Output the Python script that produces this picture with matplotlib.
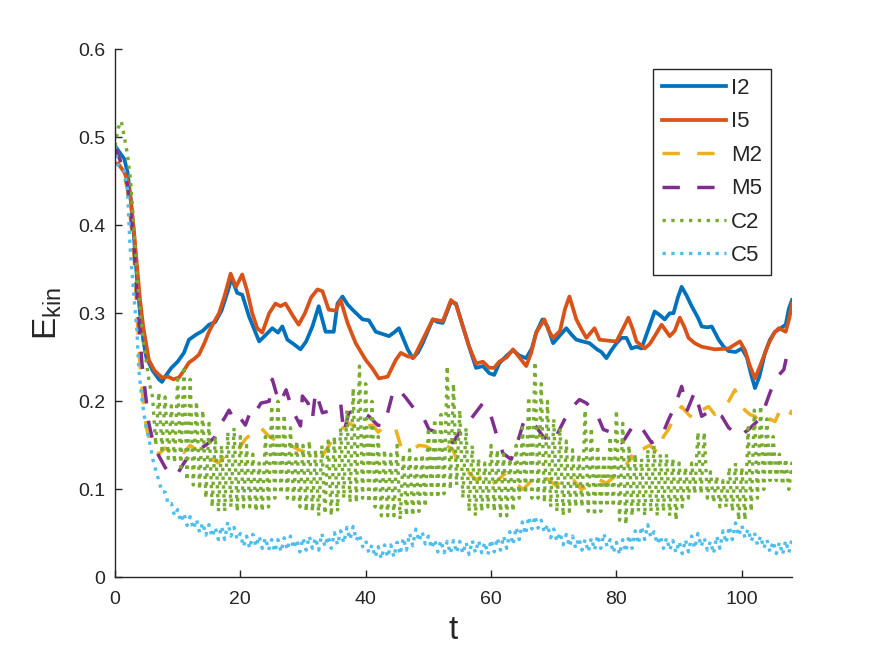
import numpy as np
import matplotlib
matplotlib.use('Agg')
import matplotlib.pyplot as plt
from matplotlib.ticker import FixedLocator, FixedFormatter

plt.rcParams['font.family'] = ['Liberation Sans', 'DejaVu Sans']
plt.rcParams['mathtext.fontset'] = 'custom'
plt.rcParams['mathtext.rm'] = 'Liberation Sans'

# ---------------- data ----------------
i2_t = [0, 0.5, 1, 1.5, 2, 2.5, 3, 3.5, 4, 4.5, 5, 6, 7, 7.5, 8, 9, 10, 11, 11.8, 13, 14, 15, 16, 17, 18,
        18.6, 19.5, 20.3, 21.4, 22.2, 23, 24, 25.1, 26, 26.7, 27.5, 28.5, 29.6, 30.5, 31.5, 32.5, 33.6,
        34.9, 35.5, 36.3, 37.1, 37.9, 39.5, 40.5, 41.6, 43.7, 44.5, 45.3, 46.7, 47.5, 48.3, 49.1, 50.7,
        51.5, 52.3, 53.6, 54.4, 55.5, 56.5, 57.6, 58.7, 59.7, 60.5, 61.3, 62.5, 63.5, 64.5, 65.6, 66.5,
        67.2, 68.2, 69, 69.9, 71, 72, 72.8, 73.6, 74.6, 75.7, 76.9, 77.6, 78.4, 79.2, 80, 80.8, 81.6,
        82.4, 83.2, 84, 85, 86.1, 86.9, 87.7, 88.5, 89.1, 89.8, 90.4, 91.2, 92, 93, 93.6, 94.5, 95.2,
        96.3, 97.1, 97.9, 99, 100, 100.8, 101.5, 102.1, 102.8, 103.7, 104.5, 105.3, 106.2, 107, 107.5, 108]
i2_v = [0.49, 0.485, 0.48, 0.475, 0.46, 0.43, 0.39, 0.34, 0.30, 0.27, 0.25, 0.235, 0.225, 0.222, 0.228,
        0.238, 0.245, 0.255, 0.27, 0.276, 0.28, 0.287, 0.29, 0.303, 0.325, 0.340, 0.323, 0.321, 0.296,
        0.282, 0.268, 0.275, 0.283, 0.278, 0.285, 0.27, 0.265, 0.259, 0.268, 0.285, 0.308, 0.279, 0.279,
        0.311, 0.319, 0.31, 0.304, 0.293, 0.292, 0.279, 0.274, 0.278, 0.283, 0.259, 0.249, 0.255, 0.266,
        0.293, 0.29, 0.289, 0.313, 0.311, 0.285, 0.262, 0.238, 0.24, 0.232, 0.23, 0.243, 0.252, 0.258,
        0.252, 0.249, 0.26, 0.278, 0.293, 0.285, 0.266, 0.275, 0.283, 0.276, 0.27, 0.268, 0.266, 0.259,
        0.256, 0.249, 0.258, 0.266, 0.272, 0.272, 0.26, 0.262, 0.26, 0.28, 0.302, 0.298, 0.293, 0.3,
        0.30, 0.318, 0.33, 0.32, 0.308, 0.295, 0.285, 0.284, 0.285, 0.27, 0.262, 0.257, 0.256, 0.26,
        0.25, 0.23, 0.215, 0.228, 0.255, 0.27, 0.279, 0.283, 0.287, 0.305, 0.315]

i5_t = [0, 0.5, 1, 1.5, 2, 2.5, 3, 3.5, 4, 4.5, 5.4, 6.3, 7.5, 8.5, 9.3, 10.2, 11, 11.8, 12.6, 13.4,
        14.2, 15, 15.8, 16.6, 17.5, 18.45, 19.3, 20.3, 21.1, 21.9, 22.7, 23.5, 24.6, 25.6, 26.4, 27.2,
        28.3, 29.3, 30.3, 31.3, 32.3, 33.1, 34.1, 35.2, 36, 37.1, 38.4, 40, 41, 42.1, 43.5, 44.8, 45.6,
        46.7, 47.7, 49.1, 50.7, 51.5, 52.3, 53.6, 54.4, 55.5, 56.5, 57.6, 58.7, 59.7, 60.5, 61.3, 62.5,
        63.5, 64.5, 65.6, 66.4, 67.2, 68.5, 69.2, 69.9, 71, 71.8, 72.5, 73.6, 74.4, 75.2, 76.5, 77.3,
        78.5, 80, 81, 81.9, 82.6, 83.2, 84.5, 85.3, 86.1, 87.2, 88.5, 89.3, 90.1, 90.8, 91.5, 92.5,
        93.6, 95.7, 97.9, 99.7, 100.5, 101.3, 102.1, 102.9, 104.3, 105.2, 105.9, 107, 107.6, 108]
i5_v = [0.47, 0.47, 0.465, 0.46, 0.45, 0.43, 0.395, 0.355, 0.315, 0.285, 0.247, 0.235, 0.227, 0.228,
        0.225, 0.227, 0.235, 0.244, 0.248, 0.253, 0.265, 0.279, 0.29, 0.30, 0.32, 0.345, 0.33, 0.344,
        0.325, 0.30, 0.283, 0.278, 0.30, 0.311, 0.308, 0.311, 0.298, 0.287, 0.30, 0.318, 0.327, 0.325,
        0.304, 0.303, 0.315, 0.289, 0.266, 0.247, 0.238, 0.226, 0.228, 0.247, 0.255, 0.251, 0.25, 0.27,
        0.293, 0.292, 0.291, 0.315, 0.31, 0.285, 0.262, 0.243, 0.245, 0.238, 0.238, 0.245, 0.25, 0.259,
        0.25, 0.24, 0.255, 0.278, 0.293, 0.28, 0.272, 0.28, 0.305, 0.319, 0.293, 0.282, 0.272, 0.283,
        0.27, 0.269, 0.268, 0.282, 0.295, 0.282, 0.268, 0.26, 0.265, 0.274, 0.287, 0.274, 0.28, 0.295,
        0.285, 0.272, 0.266, 0.262, 0.259, 0.26, 0.268, 0.258, 0.24, 0.226, 0.24, 0.266, 0.278, 0.283,
        0.279, 0.295, 0.311]

m2_t = [0, 1, 2, 3, 3.5, 4, 4.5, 5, 6, 7, 8, 9, 10, 11, 12, 13, 14, 15.5, 16.5, 17.5, 19.3, 20.8, 22,
        23, 24.6, 25.9, 27.2, 28, 29.3, 30.9, 32, 33.1, 34.4, 35.7, 36.5, 37.3, 38.1, 38.9, 40, 41.1, 42,
        43.2, 44.8, 45.6, 46.5, 47.5, 48.5, 49.6, 50.6, 51.7, 52.8, 53.9, 55, 56.3, 57.6, 58.6, 59.7, 61,
        62.4, 63.7, 65.1, 66.5, 67.7, 69, 70.4, 71.7, 73.1, 74.4, 75.7, 77, 78.4, 79.8, 81.1, 82.4, 83.2,
        84, 85.3, 86.7, 87.5, 88.3, 89.3, 90.4, 91.5, 92.5, 93.6, 94.7, 95.7, 96.8, 97.9, 98.9, 99.7,
        100.5, 101.3, 102.1, 102.9, 103.7, 104.5, 105.3, 106.1, 106.9, 107.5, 108]
m2_v = [0.49, 0.47, 0.44, 0.37, 0.30, 0.24, 0.20, 0.17, 0.145, 0.14, 0.147, 0.142, 0.148, 0.142, 0.15,
        0.145, 0.14, 0.134, 0.13, 0.138, 0.141, 0.157, 0.165, 0.172, 0.16, 0.155, 0.157, 0.15, 0.145,
        0.141, 0.14, 0.138, 0.153, 0.168, 0.17, 0.175, 0.172, 0.179, 0.172, 0.173, 0.165, 0.173, 0.168,
        0.149, 0.15, 0.145, 0.15, 0.149, 0.145, 0.151, 0.15, 0.145, 0.126, 0.12, 0.111, 0.115, 0.104,
        0.11, 0.119, 0.108, 0.10, 0.11, 0.107, 0.112, 0.104, 0.115, 0.111, 0.10, 0.104, 0.112, 0.107,
        0.115, 0.122, 0.138, 0.13, 0.145, 0.15, 0.141, 0.16, 0.168, 0.183, 0.194, 0.185, 0.179, 0.19,
        0.194, 0.185, 0.19, 0.20, 0.213, 0.20, 0.19, 0.185, 0.183, 0.175, 0.172, 0.18, 0.177, 0.19,
        0.187, 0.182, 0.19]

m5_t = [0, 1, 2, 3, 3.5, 4.3, 5.4, 6.2, 7, 8, 9.1, 10, 11, 12, 12.9, 14, 15, 16, 16.6, 17.4, 18.2, 19.3,
        20.1, 20.8, 21.9, 22.6, 23.3, 24.6, 25.1, 25.7, 26.3, 27.3, 28.3, 29.6, 29.9, 30.8, 31.5, 32, 33.1,
        34.7, 36, 36.5, 37.3, 38.9, 40.5, 41.9, 42.9, 43.6, 44.3, 45.1, 46.4, 48, 49.1, 50.1, 51.7, 52.8,
        53.9, 55, 56, 57.1, 58.7, 59.7, 60.8, 61.9, 63.2, 64.5, 65.3, 66.5, 67.5, 68.3, 69.9, 71.2, 72.5,
        74.1, 75.2, 76.8, 77.9, 79.5, 80.8, 81.3, 82.9, 84.2, 85.6, 87.2, 88.3, 89.3, 90.4, 91.3, 92.5,
        93.6, 95.2, 96.8, 97.9, 98.8, 99.7, 100.5, 101.1, 102.7, 103.5, 104.3, 105.3, 106.7, 107.5, 108]
m5_v = [0.49, 0.47, 0.445, 0.38, 0.32, 0.243, 0.175, 0.15, 0.138, 0.125, 0.115, 0.118, 0.13, 0.14,
        0.145, 0.148, 0.153, 0.16, 0.172, 0.18, 0.19, 0.175, 0.18, 0.173, 0.194, 0.19, 0.198, 0.20, 0.225,
        0.21, 0.198, 0.213, 0.19, 0.172, 0.206, 0.198, 0.18, 0.211, 0.187, 0.19, 0.198, 0.164, 0.187,
        0.19, 0.183, 0.173, 0.172, 0.19, 0.209, 0.215, 0.204, 0.189, 0.183, 0.168, 0.164, 0.16, 0.153,
        0.165, 0.172, 0.183, 0.198, 0.19, 0.164, 0.141, 0.134, 0.16, 0.179, 0.178, 0.168, 0.16, 0.153,
        0.172, 0.19, 0.202, 0.198, 0.187, 0.168, 0.164, 0.153, 0.157, 0.175, 0.168, 0.153, 0.16, 0.179,
        0.194, 0.217, 0.19, 0.211, 0.183, 0.19, 0.183, 0.17, 0.165, 0.16, 0.165, 0.168, 0.179, 0.19,
        0.206, 0.225, 0.236, 0.262, 0.264]

# C2 / C5: initial decay, then fast oscillation given as per-unit-time highs and lows (t = 6 ... 108)
c2_t0 = [0, 0.5, 1, 1.5, 2, 2.5, 3, 3.5, 4, 4.5, 5, 5.5]
c2_v0 = [0.49, 0.51, 0.518, 0.50, 0.48, 0.45, 0.40, 0.345, 0.305, 0.27, 0.245, 0.22]
c2_hi = [0.205, 0.21, 0.205, 0.195, 0.225, 0.24, 0.225, 0.20, 0.19, 0.175, 0.16, 0.15, 0.165, 0.17,
         0.16, 0.15, 0.14, 0.13, 0.16, 0.195, 0.20, 0.185, 0.17, 0.155, 0.15, 0.155, 0.145, 0.15, 0.155,
         0.16, 0.17, 0.19, 0.215, 0.24, 0.22, 0.20, 0.16, 0.145, 0.14, 0.15, 0.14, 0.145, 0.135, 0.14,
         0.17, 0.18, 0.185, 0.24, 0.22, 0.19, 0.17, 0.15, 0.135, 0.13, 0.15, 0.145, 0.14, 0.135, 0.15,
         0.17, 0.205, 0.245, 0.22, 0.20, 0.18, 0.17, 0.155, 0.145, 0.14, 0.19, 0.17, 0.15, 0.14, 0.16,
         0.19, 0.175, 0.15, 0.14, 0.135, 0.145, 0.15, 0.14, 0.14, 0.135, 0.13, 0.125, 0.13, 0.165, 0.165,
         0.12, 0.115, 0.11, 0.125, 0.13, 0.125, 0.17, 0.19, 0.195, 0.18, 0.16, 0.14, 0.135, 0.13]
c2_lo = [0.15, 0.145, 0.135, 0.13, 0.125, 0.11, 0.105, 0.10, 0.09, 0.08, 0.075, 0.075, 0.08, 0.075,
         0.08, 0.08, 0.075, 0.075, 0.08, 0.09, 0.095, 0.09, 0.085, 0.08, 0.075, 0.075, 0.07, 0.072, 0.07,
         0.075, 0.09, 0.085, 0.085, 0.09, 0.085, 0.08, 0.07, 0.07, 0.07, 0.066, 0.07, 0.07, 0.075, 0.08,
         0.09, 0.09, 0.095, 0.10, 0.105, 0.09, 0.075, 0.07, 0.075, 0.08, 0.075, 0.07, 0.07, 0.075, 0.09,
         0.095, 0.09, 0.09, 0.085, 0.08, 0.075, 0.07, 0.075, 0.08, 0.08, 0.075, 0.07, 0.075, 0.08, 0.08,
         0.065, 0.06, 0.07, 0.075, 0.07, 0.075, 0.07, 0.075, 0.07, 0.065, 0.08, 0.09, 0.095, 0.095, 0.09,
         0.085, 0.08, 0.08, 0.075, 0.065, 0.065, 0.075, 0.09, 0.10, 0.11, 0.11, 0.105, 0.10, 0.105]

c5_t0 = [0, 0.5, 1, 1.5, 2, 2.4, 2.9, 3.5, 3.8, 4.3, 4.85, 5.65]
c5_v0 = [0.49, 0.468, 0.465, 0.462, 0.44, 0.376, 0.33, 0.28, 0.236, 0.202, 0.175, 0.149]
c5_hi = [0.135, 0.11, 0.097, 0.084, 0.077, 0.073, 0.069, 0.066, 0.062, 0.06, 0.057, 0.058, 0.063,
         0.057, 0.05, 0.047, 0.049, 0.047, 0.045, 0.043, 0.043, 0.045, 0.047, 0.043, 0.045, 0.047, 0.045,
         0.05, 0.047, 0.051, 0.053, 0.057, 0.058, 0.049, 0.042, 0.037, 0.035, 0.037, 0.037, 0.04, 0.045,
         0.05, 0.055, 0.052, 0.047, 0.043, 0.042, 0.041, 0.042, 0.041, 0.04, 0.042, 0.042, 0.04, 0.043,
         0.045, 0.047, 0.052, 0.057, 0.063, 0.069, 0.07, 0.065, 0.06, 0.055, 0.051, 0.049, 0.047, 0.045,
         0.043, 0.045, 0.048, 0.05, 0.043, 0.04, 0.043, 0.048, 0.053, 0.058, 0.06, 0.052, 0.047, 0.045,
         0.042, 0.041, 0.043, 0.047, 0.05, 0.045, 0.041, 0.047, 0.053, 0.058, 0.062, 0.059, 0.055, 0.051,
         0.047, 0.043, 0.041, 0.04, 0.042, 0.044]
c5_lo = [0.122, 0.097, 0.083, 0.07, 0.063, 0.059, 0.055, 0.051, 0.048, 0.046, 0.043, 0.043, 0.047,
         0.043, 0.035, 0.033, 0.035, 0.033, 0.031, 0.029, 0.029, 0.031, 0.033, 0.029, 0.031, 0.033, 0.031,
         0.035, 0.033, 0.037, 0.039, 0.043, 0.042, 0.035, 0.028, 0.023, 0.021, 0.023, 0.023, 0.026, 0.031,
         0.036, 0.041, 0.038, 0.033, 0.029, 0.028, 0.027, 0.028, 0.027, 0.026, 0.028, 0.028, 0.026, 0.029,
         0.031, 0.033, 0.037, 0.043, 0.049, 0.055, 0.056, 0.051, 0.045, 0.041, 0.037, 0.035, 0.033, 0.031,
         0.029, 0.031, 0.033, 0.035, 0.028, 0.026, 0.029, 0.033, 0.038, 0.043, 0.045, 0.038, 0.033, 0.031,
         0.028, 0.027, 0.029, 0.033, 0.035, 0.031, 0.027, 0.033, 0.039, 0.043, 0.047, 0.045, 0.041, 0.037,
         0.033, 0.029, 0.027, 0.026, 0.028, 0.03]

labels = ['I2', 'I5', 'M2', 'M5', 'C2', 'C5']
x_ticks = [0, 20, 40, 60, 80, 100]
y_ticks = [0, 0.1, 0.2, 0.3, 0.4, 0.5, 0.6]
y_tick_labels = ['0', '0.1', '0.2', '0.3', '0.4', '0.5', '0.6']


def osc_series(t0, v0, hi, lo):
    k = np.arange(6, 6 + len(hi))
    t_osc = np.column_stack([k, k + 0.5]).ravel()
    v_osc = np.column_stack([hi, lo]).ravel()
    return np.concatenate([t0, t_osc]), np.concatenate([v0, v_osc])


c2_t, c2_v = osc_series(c2_t0, c2_v0, c2_hi, c2_lo)
c5_t, c5_v = osc_series(c5_t0, c5_v0, c5_hi, c5_lo)

colors = ['#0072BD', '#D95319', '#EDB120', '#7E2F8E', '#77AC30', '#4DBEEE']
dash = (0, (5.0, 5.0))
styles = ['-', '-', dash, dash, ':', ':']
widths = [2.7, 2.7, 2.5, 2.5, 2.4, 2.4]
series = [(i2_t, i2_v), (i5_t, i5_v), (m2_t, m2_v), (m5_t, m5_v), (c2_t, c2_v), (c5_t, c5_v)]

fig = plt.figure(figsize=(8.75, 6.56), dpi=100)
ax = fig.add_axes([0.1314, 0.1197, 0.7737, 0.8056])

for (t, v), c, ls, lw, lab in zip(series, colors, styles, widths, labels):
    ax.plot(t, v, color=c, linestyle=ls, linewidth=lw, label=lab)

ax.set_xlim(0, 108)
ax.set_ylim(0, 0.6)
ax.xaxis.set_major_locator(FixedLocator(x_ticks))
ax.yaxis.set_major_locator(FixedLocator(y_ticks))
ax.yaxis.set_major_formatter(FixedFormatter(y_tick_labels))

for s in ['top', 'right']:
    ax.spines[s].set_visible(False)
for s in ['left', 'bottom']:
    ax.spines[s].set_color('#262626')
    ax.spines[s].set_linewidth(1.0)

ax.tick_params(axis='both', direction='in', length=5, width=1.0, colors='#262626', labelsize=14)
ax.tick_params(axis='x', pad=10)
ax.tick_params(axis='y', pad=7)

ax.set_xlabel('t', fontsize=24, color='#262626', labelpad=5)
ax.set_ylabel(r'E$_{\mathregular{kin}}$', fontsize=24, color='#262626', labelpad=10)

leg = ax.legend(loc='upper right', bbox_to_anchor=(0.969, 0.962), borderaxespad=0,
                fontsize=16, handlelength=2.85, handletextpad=0.25, labelspacing=0.56,
                frameon=True, fancybox=False, framealpha=1, borderpad=0.4)
leg.get_frame().set_edgecolor('#262626')
leg.get_frame().set_linewidth(1.0)
for txt in leg.get_texts():
    txt.set_color('#262626')

fig.savefig('out.png', dpi=100)
